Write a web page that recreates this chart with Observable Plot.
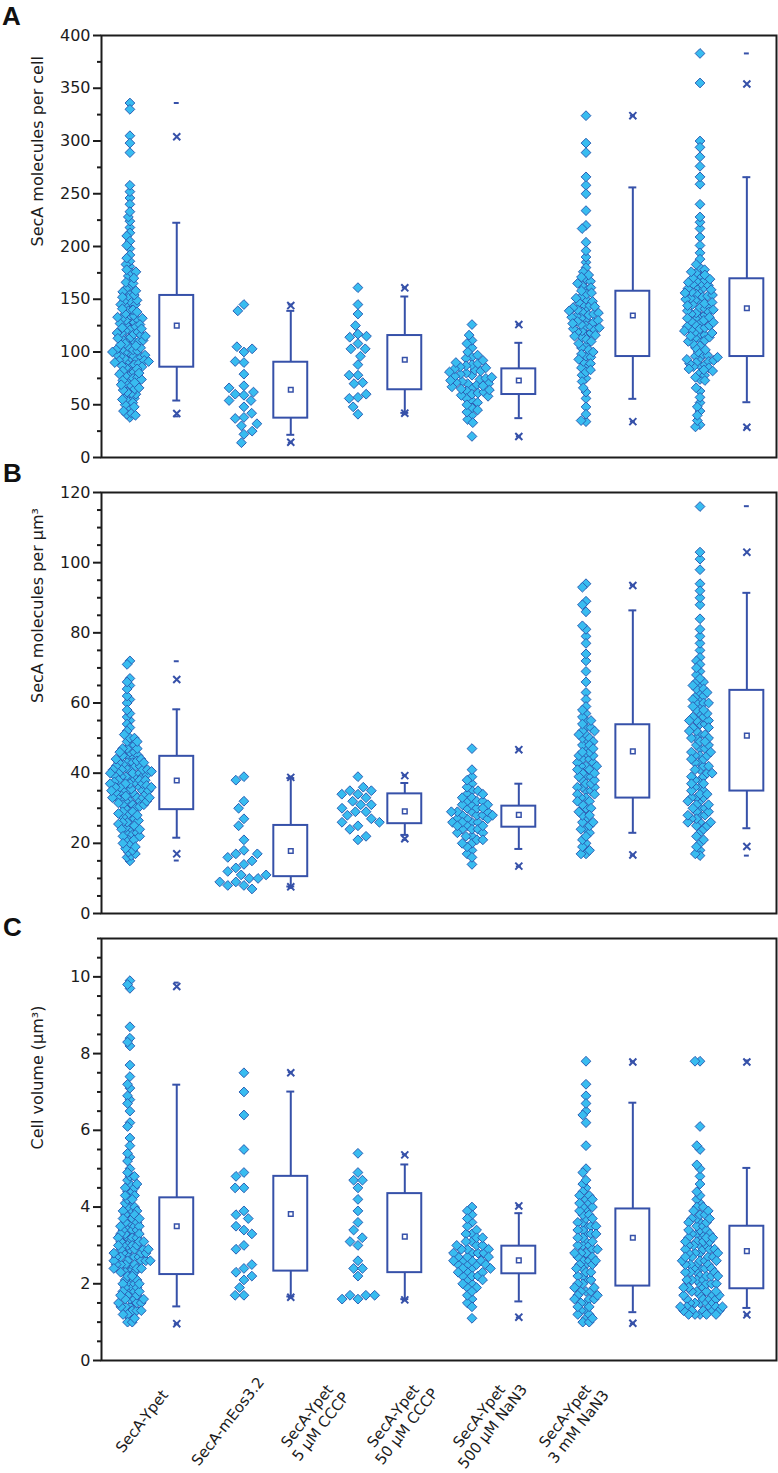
<!DOCTYPE html>
<html><head><meta charset="utf-8">
<script src="https://cdn.jsdelivr.net/npm/d3@7"></script>
<script src="https://cdn.jsdelivr.net/npm/@observablehq/plot@0.6"></script>
<style>
html,body{margin:0;padding:0;background:#fff;}
#wrap{position:relative;width:778px;height:1473px;font-family:"Liberation Sans",Arial,sans-serif;overflow:hidden;}
#wrap svg{display:block;}
.lab{position:absolute;font-family:"Liberation Sans",Arial,sans-serif;font-weight:bold;font-size:26px;line-height:26px;color:#111;}
</style></head><body><div id="wrap"></div>
<script>
const groups = ["SecA-Ypet", "SecA-mEos3.2", "SecA-Ypet\n5 µM CCCP", "SecA-Ypet\n50 µM CCCP", "SecA-Ypet\n500 µM NaN3", "SecA-Ypet\n3 mM NaN3"];

// ---- Panel A: SecA molecules per cell ----
const perCell_Ypet = [336,330,305,298,289,258,252,246,240,233,228,224,218,213,210,205,201,198,192,189,186,183,181,178,176,175,172,170,168,166,165,162,160,158,157,155,154,152,151,149,148,147,145,145,144,143,141,140,139,138,136,135,134,133,132,131,130,130,128,128,127,126,125,124,123,122,121,120,119,118,118,117,116,115,114,113,112,112,111,110,110,109,108,107,106,105,104,103,102,102,101,100,100,99,98,97,96,96,95,94,94,93,92,92,91,90,90,89,88,88,87,86,85,84,83,82,81,80,79,78,77,76,75,74,73,72,71,70,69,68,66,65,64,62,61,60,58,57,56,55,53,52,50,48,46,44,42,41,40,38];
const perCell_mEos = [145,139,105,103,100,91,90,79,68,66,62,60,59,54,54,48,42,38,37,32,30,25,22,14];
const perCell_CCCP5 = [161,145,136,125,117,115,114,108,103,103,96,88,78,78,71,70,60,57,56,48,41];
const perCell_CCCP50 = [126,116,111,108,104,100,97,95,94,92,90,89,88,87,86,85,84,83,82,81,80,79,78,77,76,75,74,73,72,71,70,70,69,68,67,66,65,64,63,62,61,60,59,58,56,54,52,50,47,45,43,40,36,33,20];
const perCell_NaN3_500 = [324,298,289,266,258,250,234,220,217,204,196,190,185,180,176,173,171,169,167,165,163,161,160,158,156,155,153,151,150,148,147,145,144,143,142,141,140,139,138,137,136,135,134,133,132,131,130,129,128,127,126,125,124,123,122,121,120,119,118,117,116,115,114,112,110,108,106,104,102,100,98,96,95,93,91,89,87,85,83,81,78,75,72,66,62,56,48,41,35,34];
const perCell_NaN3_3mM = [383,355,300,294,285,276,266,259,240,228,223,217,209,201,194,188,183,180,178,176,175,173,172,170,169,168,167,166,165,164,163,162,161,160,159,158,157,156,155,154,153,152,151,150,149,148,147,146,145,144,143,142,141,140,139,138,137,136,135,134,133,132,131,130,129,128,127,126,125,124,123,122,121,120,119,118,117,116,115,114,113,112,111,110,108,106,104,102,100,98,97,96,95,94,93,92,91,90,89,88,87,86,85,84,83,82,80,78,76,74,73,66,63,57,52,48,44,40,35,31,29];
const perCellBoxLow = [85.6, 37.3, 64.2, 59.7, 95.7, 95.7];
const perCellBoxHigh = [153.6, 90.3, 115.6, 84, 157.6, 169.4];
const perCellMean = [125, 64.2, 92.6, 73, 134.6, 141.5];
const perCellWhiskerLow = [54, 21.5, 42.3, 37.3, 55.6, 52.4];
const perCellWhiskerHigh = [222.5, 139, 152.6, 108.7, 256, 265.7];
const perCellP1 = [41.7, 14.5, 42, 19.9, 34, 28.7];
const perCellP99 = [304, 144, 160.8, 126, 324, 354];
const perCellMin = [39, 14, 41, 20, 34, 28];
const perCellMax = [336, 145, 161, 126, 324, 383];
const perCellTicks = [0, 50, 100, 150, 200, 250, 300, 350, 400];
const perCellMinorTicks = [25, 75, 125, 175, 225, 275, 325, 375];

// ---- Panel B: SecA molecules per µm³ ----
const perUm3_Ypet = [72,71,67,66,65,64,62,61,60,58,57,56,55,54,53,52,51,50,50,49,49,48,48,47,47,47,46,46,46,45,45,45,44.5,44,44,44,43.5,43,43,43,42.5,42,42,42,41.5,41,41,41,41,40.5,40,40,40,40,39.5,39,39,39,39,38.5,38,38,38,38,37.5,37,37,37,37,36.5,36,36,36,36,35.5,35,35,35,35,34.5,34,34,34,34,33.5,33,33,33,33,32.5,32,32,32,32,31.5,31,31,31,30.5,30,30,30,29,29,28.5,28,28,27.5,27,27,26.5,26,26,25.5,25,25,24.5,24,24,23.5,23,23,22.5,22,22,21.5,21,20.5,20,19.5,19,18.5,18,17.5,17,16.5,16,15,43,41,39,37,35,33];
const perUm3_mEos = [39,38,32,30,27,25,21,18,17,17,16,15,14,13,12,11,11,10,10,9,9,8,8,7];
const perUm3_CCCP5 = [39,36,35,35,34,34,33,32,31,31,30,29,29,28,27,26,26,25,24,22,21];
const perUm3_CCCP50 = [47,41,39,38,37,36,35,35,34,34,33,33,32,32,32,31,31,31,30,30,30,29,29,29,29,28,28,28,28,27,27,27,26,26,26,26,25,25,25,24,24,24,23,23,22,22,21,21,20,20,19,18,17,16,14];
const perUm3_NaN3_500 = [94,93,89,88,86,82,81,79,77,74,72,69,66,63,61,59,58,57,56,55,55,54,53,53,52,52,51,51,50,50,49,49,48,48,47,47,46,46,45,45,44,44,43,43,42,42,41,41,40,40,39,39,38,38,37,37,36,36,35,35,34,34,33,33,45,42,39,36,32,32,31,30,30,29,28,28,27,26,26,25,24,24,23,22,21,20,19,18,17,17];
const perUm3_NaN3_3mM = [116,103,101,98,94,92,90,88,84,81,79,77,75,73,72,71,70,69,68,67,66,66,65,65,64,64,63,63,62,62,61,61,60,60,59,59,58,58,57,57,56,56,55,55,54,54,53,53,52,52,51,51,50,50,49,49,48,48,47,47,46,46,45,45,44,44,43,43,42,42,41,41,40,40,39,39,38,38,37,37,36,36,35,35,60,55,50,45,34,34,33,33,32,32,31,31,30,30,29,29,28,28,27,27,26,26,25,25,24,23,22,21,20,19,18,17,16.5,30,28,26,33];
const perUm3BoxLow = [29.6, 10.5, 25.6, 24.6, 32.9, 34.9];
const perUm3BoxHigh = [44.8, 25.1, 34.1, 30.6, 53.8, 63.6];
const perUm3Mean = [37.9, 17.8, 29.1, 28.1, 46.2, 50.7];
const perUm3WhiskerLow = [21.6, 7.7, 22.4, 18.4, 23.0, 24.3];
const perUm3WhiskerHigh = [58.2, 38.6, 37.2, 37.0, 86.4, 91.4];
const perUm3P1 = [17.0, 7.6, 21.3, 13.5, 16.7, 19.1];
const perUm3P99 = [66.7, 38.8, 39.3, 46.7, 93.5, 103];
const perUm3Min = [15.1, 7.3, 21.0, 13.4, 16.6, 16.5];
const perUm3Max = [71.9, 39.0, 39.4, 46.8, 93.6, 116.1];
const perUm3Ticks = [0, 20, 40, 60, 80, 100, 120];
const perUm3MinorTicks = [5, 10, 15, 25, 30, 35, 45, 50, 55, 65, 70, 75, 85, 90, 95, 105, 110, 115];

// ---- Panel C: cell volume (µm³) ----
const volume_Ypet = [9.9,9.8,9.7,8.7,8.4,8.3,8.2,7.7,7.4,7.2,7.1,6.9,6.8,6.7,6.5,6.2,6.1,5.8,5.6,5.4,5.3,5.2,5.0,4.9,4.8,4.8,4.7,4.6,4.6,4.5,4.5,4.4,4.4,4.3,4.3,4.3,4.2,4.2,4.1,4.1,4.0,4.0,3.9,3.9,3.9,3.8,3.8,3.7,3.7,3.7,3.6,3.6,3.5,3.5,3.5,3.4,3.4,3.4,3.3,3.3,3.3,3.2,3.2,3.2,3.1,3.1,3.1,3.0,3.0,3.0,3.0,2.9,2.9,2.9,2.9,2.8,2.8,2.8,2.8,2.7,2.7,2.7,2.7,2.6,2.6,2.6,2.6,2.5,2.5,2.5,2.5,2.4,2.4,2.4,2.4,2.3,2.3,2.3,2.3,3.6,3.4,3.2,3.0,2.8,2.6,2.4,3.8,3.3,2.9,2.5,3.1,2.7,2.2,2.2,2.1,2.1,2.1,2.0,2.0,2.0,1.9,1.9,1.9,1.8,1.8,1.8,1.7,1.7,1.7,1.6,1.6,1.6,1.5,1.5,1.5,1.4,1.4,1.4,1.3,1.3,1.3,1.2,1.2,1.1,1.1,1.0,1.0,2.0,1.8,1.6];
const volume_mEos = [7.5,7.0,6.4,5.5,4.9,4.8,4.5,4.5,3.9,3.8,3.7,3.5,3.4,3.3,3.0,2.9,2.5,2.4,2.3,2.2,2.1,1.9,1.7,1.7];
const volume_CCCP5 = [5.4,4.9,4.7,4.7,4.5,4.2,3.9,3.6,3.4,3.2,3.1,3.0,2.6,2.4,2.4,2.2,1.7,1.7,1.7,1.6,1.6];
const volume_CCCP50 = [4.0,3.9,3.8,3.7,3.6,3.5,3.4,3.3,3.3,3.2,3.2,3.1,3.1,3.0,3.0,3.0,2.9,2.9,2.9,2.8,2.8,2.8,2.8,2.7,2.7,2.7,2.6,2.6,2.6,2.6,2.5,2.5,2.5,2.5,2.4,2.4,2.4,2.3,2.3,2.3,2.2,2.2,2.2,2.1,2.1,2.0,2.0,1.9,1.9,1.8,1.7,1.6,1.5,1.4,1.1];
const volume_NaN3_500 = [7.8,7.2,6.9,6.7,6.5,6.4,6.2,5.6,5.0,4.9,4.7,4.6,4.5,4.4,4.3,4.3,4.2,4.2,4.1,4.1,4.0,4.0,3.9,3.9,3.8,3.8,3.7,3.7,3.6,3.6,3.5,3.5,3.4,3.4,3.3,3.3,3.2,3.2,3.1,3.1,3.0,3.0,2.9,2.9,2.8,2.8,2.7,2.7,2.6,2.6,2.5,2.5,2.4,2.4,2.3,2.3,2.2,2.2,2.1,2.1,2.0,2.0,3.5,3.0,2.5,2.8,3.3,2.6,1.9,1.9,1.8,1.8,1.7,1.7,1.6,1.6,1.5,1.5,1.4,1.4,1.3,1.3,1.2,1.2,1.1,1.1,1.0,1.0,1.8,1.6];
const volume_NaN3_3mM = [7.8,7.8,6.1,5.6,5.5,5.1,5.0,4.8,4.6,4.4,4.3,4.2,4.1,4.0,4.0,3.9,3.9,3.8,3.8,3.7,3.7,3.7,3.6,3.6,3.6,3.5,3.5,3.4,3.4,3.4,3.3,3.3,3.3,3.2,3.2,3.2,3.1,3.1,3.1,3.0,3.0,3.0,2.9,2.9,2.9,2.8,2.8,2.8,2.7,2.7,2.7,2.6,2.6,2.6,2.5,2.5,2.5,2.4,2.4,2.4,2.3,2.3,2.3,2.2,2.2,2.2,2.1,2.1,2.1,2.0,2.0,2.0,1.9,1.9,1.9,3.2,3.0,2.8,2.6,2.4,2.2,2.0,3.3,2.9,2.5,2.1,2.7,2.3,3.1,1.8,1.8,1.8,1.7,1.7,1.7,1.6,1.6,1.6,1.5,1.5,1.5,1.4,1.4,1.4,1.4,1.3,1.3,1.3,1.3,1.2,1.2,1.2,1.2,1.7,1.5,1.3,1.6,1.4,1.8,1.2,1.5];
const volumeBoxLow = [2.24, 2.33, 2.29, 2.26, 1.94, 1.87];
const volumeBoxHigh = [4.24, 4.80, 4.35, 2.98, 3.95, 3.50];
const volumeMean = [3.50, 3.82, 3.23, 2.61, 3.20, 2.85];
const volumeWhiskerLow = [1.41, 1.67, 1.60, 1.54, 1.26, 1.37];
const volumeWhiskerHigh = [7.19, 7.01, 5.11, 3.84, 6.72, 5.02];
const volumeP1 = [0.96, 1.65, 1.58, 1.13, 0.97, 1.19];
const volumeP99 = [9.75, 7.50, 5.36, 4.03, 7.78, 7.78];
const volumeMin = [0.95, 1.64, 1.57, 1.12, 0.96, 1.18];
const volumeMax = [9.85, 7.52, 5.37, 4.04, 7.79, 7.82];
const volumeTicks = [0, 2, 4, 6, 8, 10];
const volumeMinorTicks = [0.5, 1, 1.5, 2.5, 3, 3.5, 4.5, 5, 5.5, 6.5, 7, 7.5, 8.5, 9, 9.5, 10.5, 11];

const FONT = "DejaVu Sans, Liberation Sans, Arial, sans-serif";
const FILL = "#38bcf0";
const EDGE = "#2b5fb4";
const BOX = "#3651a9";
const INK = "#1c1c1c";
// style: dodge padding per group (how loosely each swarm is spread)
const SPREAD = [-4.3, 0, 0, -2.8, -3.8, -3.8];

function panel(cfg) {
  const pts = cfg.values.flatMap((arr, i) => arr.map(v => ({g: groups[i], v})));
  const st = groups.map((g, i) => ({g, pos: "box", lo: cfg.boxLow[i], hi: cfg.boxHigh[i], mean: cfg.mean[i], wlo: cfg.whiskerLow[i], whi: cfg.whiskerHigh[i]}));
  const caps = groups.flatMap((g, i) => [{g, pos: "box", v: cfg.whiskerLow[i]}, {g, pos: "box", v: cfg.whiskerHigh[i]}]);
  const pct = groups.flatMap((g, i) => [{g, pos: "box", v: cfg.p1[i]}, {g, pos: "box", v: cfg.p99[i]}]);
  const ext = groups.flatMap((g, i) => [{g, pos: "box", v: cfg.min[i]}, {g, pos: "box", v: cfg.max[i]}]);
  const swarms = groups.map((g, i) => Plot.dot(pts.filter(d => d.g === g),
    Plot.dodgeX({anchor: "middle", padding: SPREAD[i]},
      Plot.shuffle({seed: 7, fx: "g", y: "v", r: 4.4, symbol: "diamond2", fill: FILL, stroke: EDGE, strokeWidth: 1, dx: -40}))));
  return Plot.plot({
    width: 778, height: cfg.height, marginTop: cfg.marginTop, marginBottom: cfg.marginBottom,
    marginLeft: 101, marginRight: 2,
    style: {fontFamily: FONT, fontSize: "16px", color: INK, background: "#fff", overflow: "visible"},
    fx: {domain: groups, paddingInner: 0.08, paddingOuter: 0, round: false, axis: null, label: null},
    x: {domain: ["pts", "box"], padding: 0.3, round: false, axis: null, label: null},
    y: {domain: cfg.domain, label: null},
    marks: [
      Plot.axisY(cfg.minor, {tickSize: 4, strokeWidth: 2, stroke: INK, tickFormat: () => "", label: null}),
      Plot.axisY(cfg.major, {tickSize: 8, tickPadding: 3, strokeWidth: 2, stroke: INK, fill: INK, fontSize: 16, label: null}),
      Plot.text([cfg.title], {facet: "super", frameAnchor: "left", rotate: -90, dx: -64, fontSize: 16, fill: INK}),
      ...swarms,
      Plot.ruleX(st, {fx: "g", x: "pos", y1: "wlo", y2: "lo", stroke: BOX, strokeWidth: 2}),
      Plot.ruleX(st, {fx: "g", x: "pos", y1: "hi", y2: "whi", stroke: BOX, strokeWidth: 2}),
      Plot.tickY(caps, {fx: "g", x: "pos", y: "v", stroke: BOX, strokeWidth: 2, insetLeft: 12, insetRight: 12}),
      Plot.barY(st, {fx: "g", x: "pos", y1: "lo", y2: "hi", fill: "#fff", stroke: BOX, strokeWidth: 2, insetLeft: -1, insetRight: -1}),
      Plot.dot(st, {fx: "g", x: "pos", y: "mean", symbol: "square", r: 2.6, fill: "#fff", stroke: BOX, strokeWidth: 1.5}),
      Plot.tickY(ext, {fx: "g", x: "pos", y: "v", stroke: BOX, strokeWidth: 2, insetLeft: 13.5, insetRight: 13.5}),
      Plot.dot(pct, {fx: "g", x: "pos", y: "v", symbol: "times", r: 3.3, stroke: BOX, strokeWidth: 2}),
      Plot.frame({facet: "super", stroke: INK, strokeWidth: 2})
    ]
  });
}

const wrap = document.getElementById("wrap");

wrap.append(panel({
  height: 470, marginTop: 35, marginBottom: 13, domain: [0, 400],
  major: perCellTicks, minor: perCellMinorTicks, title: "SecA molecules per cell",
  values: [perCell_Ypet, perCell_mEos, perCell_CCCP5, perCell_CCCP50, perCell_NaN3_500, perCell_NaN3_3mM],
  boxLow: perCellBoxLow, boxHigh: perCellBoxHigh, mean: perCellMean, whiskerLow: perCellWhiskerLow,
  whiskerHigh: perCellWhiskerHigh, p1: perCellP1, p99: perCellP99, min: perCellMin, max: perCellMax
}));

wrap.append(panel({
  height: 455, marginTop: 22, marginBottom: 12, domain: [0, 120],
  major: perUm3Ticks, minor: perUm3MinorTicks, title: "SecA molecules per µm³",
  values: [perUm3_Ypet, perUm3_mEos, perUm3_CCCP5, perUm3_CCCP50, perUm3_NaN3_500, perUm3_NaN3_3mM],
  boxLow: perUm3BoxLow, boxHigh: perUm3BoxHigh, mean: perUm3Mean, whiskerLow: perUm3WhiskerLow,
  whiskerHigh: perUm3WhiskerHigh, p1: perUm3P1, p99: perUm3P99, min: perUm3Min, max: perUm3Max
}));

wrap.append(panel({
  height: 435, marginTop: 13, marginBottom: 0, domain: [0, 11],
  major: volumeTicks, minor: volumeMinorTicks, title: "Cell volume (µm³)",
  values: [volume_Ypet, volume_mEos, volume_CCCP5, volume_CCCP50, volume_NaN3_500, volume_NaN3_3mM],
  boxLow: volumeBoxLow, boxHigh: volumeBoxHigh, mean: volumeMean, whiskerLow: volumeWhiskerLow,
  whiskerHigh: volumeWhiskerHigh, p1: volumeP1, p99: volumeP99, min: volumeMin, max: volumeMax
}));

// category labels strip (rotated, centred multi-line)
wrap.append(Plot.plot({
  width: 778, height: 113, marginTop: 0, marginBottom: 0, marginLeft: 140, marginRight: 206,
  style: {fontFamily: FONT, background: "#fff", overflow: "visible"},
  x: {type: "point", domain: groups, padding: 0, axis: null},
  marks: [
    Plot.text(groups, {x: d => d, frameAnchor: "middle", dy: 4, text: d => d, rotate: -52, textAnchor: "middle", lineAnchor: "middle", lineHeight: 1.15, fontSize: 15, fill: INK})
  ]
}));

for (const [t, top, left] of [["A", 3, 2], ["B", 460, 3], ["C", 914, 3]]) {
  const d = document.createElement("div");
  d.className = "lab"; d.textContent = t; d.style.top = top + "px"; d.style.left = left + "px";
  wrap.append(d);
}
</script></body></html>
